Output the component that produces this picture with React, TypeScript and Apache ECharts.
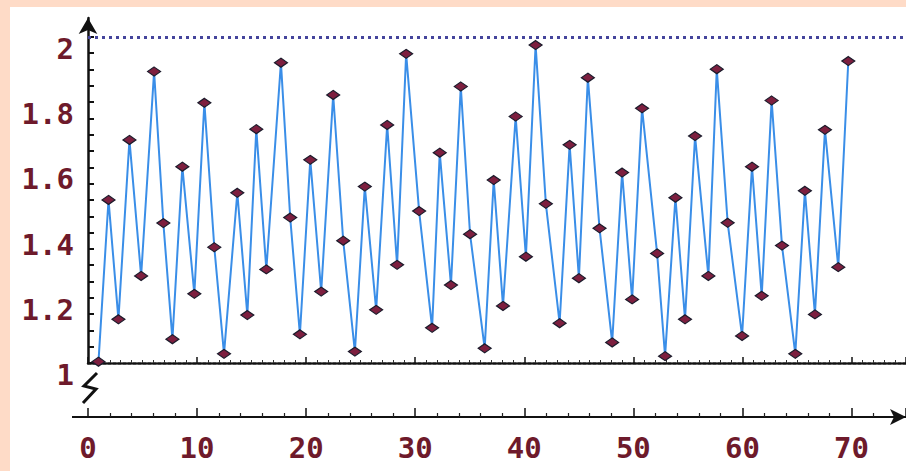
import React, { useEffect, useRef } from "react";
import * as echarts from "echarts";

// x positions of the samples
const xValues = [
  0.96, 1.88, 2.79, 3.8, 4.87, 6.06, 6.91, 7.74, 8.65, 9.75,
  10.67, 11.58, 12.47, 13.69, 14.61, 15.43, 16.35, 17.69, 18.54, 19.43,
  20.38, 21.38, 22.48, 23.4, 24.47, 25.38, 26.42, 27.43, 28.34, 29.17,
  30.36, 31.55, 32.25, 33.28, 34.18, 35.03, 36.37, 37.2, 38.05, 39.21,
  40.15, 41.04, 41.98, 43.24, 44.16, 45.01, 45.83, 46.9, 48.06, 48.97,
  49.89, 50.8, 52.18, 52.91, 53.86, 54.74, 55.66, 56.88, 57.65, 58.65,
  59.97, 60.88, 61.77, 62.68, 63.63, 64.85, 65.73, 66.65, 67.57, 68.79,
  69.71,
];

// sample values
const yValues = [
  1.004, 1.5, 1.134, 1.684, 1.267, 1.894, 1.429, 1.073, 1.602, 1.212,
  1.798, 1.355, 1.028, 1.522, 1.147, 1.717, 1.287, 1.921, 1.446, 1.088,
  1.623, 1.219, 1.822, 1.375, 1.035, 1.541, 1.163, 1.73, 1.301, 1.948,
  1.466, 1.108, 1.645, 1.239, 1.848, 1.395, 1.045, 1.561, 1.175, 1.756,
  1.326, 1.975, 1.488, 1.122, 1.669, 1.26, 1.875, 1.413, 1.063, 1.584,
  1.195, 1.781, 1.336, 1.021, 1.507, 1.134, 1.696, 1.267, 1.901, 1.43,
  1.083, 1.602, 1.206, 1.805, 1.36, 1.028, 1.528, 1.149, 1.715, 1.294,
  1.926,
];

const yTickValues = [
  1, 1.05, 1.1, 1.15, 1.2, 1.25, 1.3, 1.35, 1.4, 1.45, 1.5,
  1.55, 1.6, 1.65, 1.7, 1.75, 1.8, 1.85, 1.9, 1.95, 2,
];
const yLabelValues = [1, 1.2, 1.4, 1.6, 1.8, 2];
const xLabelStep = 10;
const xMin = 0;
const xMax = 75;
const yMin = 1;
const yAxisTop = 2.058;
const upperReference = 2;

const labelFont = {
  fontFamily: "DejaVu Sans Mono",
  fontWeight: "bold" as const,
  fontSize: 29,
  color: "#6e1a2b",
};

export default function App() {
  const ref = useRef<HTMLDivElement>(null);

  useEffect(() => {
    if (!ref.current) return;
    const chart = echarts.init(ref.current, null, { renderer: "svg" });
    const data = xValues.map((x, i) => [x, yValues[i]]);

    chart.setOption({
      animation: false,
      grid: [
        { left: 88, right: 0, top: 18, bottom: 108, containLabel: false },
        { left: 88, right: 0, top: 416, bottom: 54, containLabel: false },
      ],
      xAxis: [
        {
          type: "value",
          gridIndex: 0,
          min: xMin,
          max: xMax,
          interval: xLabelStep,
          position: "bottom",
          axisLine: {
            show: true,
            lineStyle: { color: "#111", width: 2.5, type: [3, 2] },
          },
          axisTick: { show: true, inside: true, length: 6, lineStyle: { color: "#111", width: 1.5 } },
          minorTick: { show: true, splitNumber: 10, length: 3, lineStyle: { color: "#333", width: 1 } },
          axisLabel: { show: false },
          splitLine: { show: false },
        },
        {
          type: "value",
          gridIndex: 1,
          min: xMin,
          max: xMax,
          interval: xLabelStep,
          position: "bottom",
          axisLine: {
            show: true,
            symbol: ["none", "arrow"],
            symbolSize: [12, 16],
            lineStyle: { color: "#111", width: 2 },
          },
          axisTick: { show: true, inside: true, length: 9, lineStyle: { color: "#111", width: 1.5 } },
          minorTick: { show: true, splitNumber: 5, length: 4, lineStyle: { color: "#222", width: 1.2 } },
          axisLabel: {
            show: true,
            margin: 16,
            showMaxLabel: false,
            formatter: (v: number) => (v % xLabelStep === 0 ? String(v) : ""),
            ...labelFont,
          },
          splitLine: { show: false },
        },
      ],
      yAxis: [
        {
          type: "value",
          gridIndex: 0,
          min: yMin,
          max: yAxisTop,
          axisLine: {
            show: true,
            symbol: ["none", "arrow"],
            symbolSize: [14, 16],
            lineStyle: { color: "#111", width: 2.5 },
          },
          axisTick: {
            show: true,
            inside: true,
            length: 6,
            customValues: yTickValues,
            lineStyle: { color: "#111", width: 2 },
          },
          axisLabel: {
            show: true,
            margin: 14,
            customValues: yLabelValues,
            formatter: (v: number) => String(+v.toFixed(1)),
            verticalAlign: "top",
            lineHeight: 24,
            ...labelFont,
          },
          splitLine: { show: false },
        },
        {
          type: "value",
          gridIndex: 1,
          min: 0,
          max: 1,
          show: false,
        },
      ],
      series: [
        {
          type: "line",
          xAxisIndex: 0,
          yAxisIndex: 0,
          data,
          symbol: "diamond",
          symbolSize: [13, 9],
          showSymbol: true,
          lineStyle: { color: "#3a8ee8", width: 2 },
          itemStyle: { color: "#7d1f3f", borderColor: "#1c1c2c", borderWidth: 1.2 },
          markLine: {
            silent: true,
            symbol: "none",
            label: { show: false },
            lineStyle: { color: "#45459c", width: 3, type: [3, 4] },
            data: [{ yAxis: upperReference }],
          },
          z: 3,
        },
      ],
      graphic: [
        {
          type: "polyline",
          shape: { points: [[97, 373], [84, 386], [96, 389], [83, 403]] },
          style: { stroke: "#111", lineWidth: 3, fill: "none" },
        },
        {
          type: "line",
          shape: { x1: 72, y1: 417, x2: 88, y2: 417 },
          style: { stroke: "#111", lineWidth: 2 },
        },
      ],
    });

    return () => chart.dispose();
  }, []);

  return (
    <div
      style={{
        position: "absolute",
        left: 0,
        top: 0,
        width: 906,
        height: 471,
        background: "#fedbc7",
        overflow: "hidden",
      }}
    >
      <div
        style={{ position: "absolute", left: 10, top: 7, right: 0, bottom: 0, background: "#ffffff" }}
      />
      <div ref={ref} style={{ position: "absolute", left: 0, top: 0, width: 906, height: 471 }} />
    </div>
  );
}
